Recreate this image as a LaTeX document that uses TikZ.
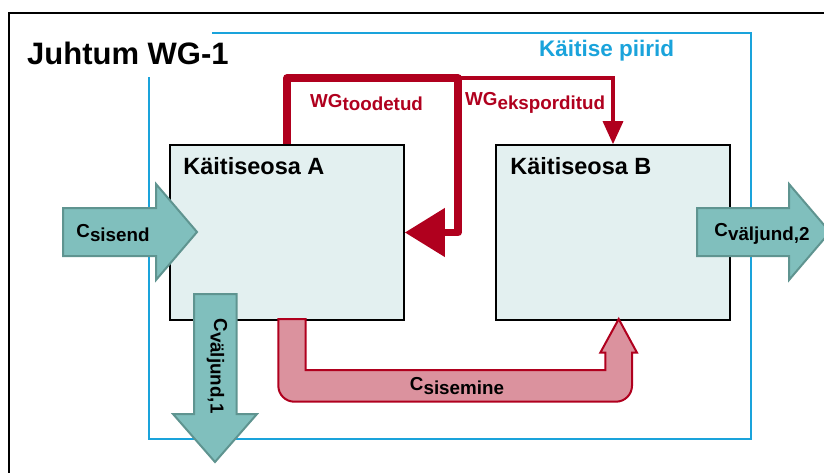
\documentclass[tikz,border=0pt]{standalone}
\usepackage{fontspec}
\setmainfont{Liberation Sans}
\usetikzlibrary{arrows.meta,positioning,calc}
\definecolor{wgred}{HTML}{B0001E}
\definecolor{pinkfill}{HTML}{DB929E}
\definecolor{tealfill}{HTML}{80BFBD}
\definecolor{tealedge}{HTML}{5F9490}
\definecolor{unitfill}{HTML}{E3F0F0}
\definecolor{limitblue}{HTML}{1AA3DB}
\newcommand{\lo}[1]{\raisebox{-3.5pt}{#1}}
\tikzset{
  unitbox/.style={rectangle, draw=black, fill=unitfill, line width=1.6pt,
    minimum width=234pt, minimum height=175pt, inner sep=0pt},
  unitlabel/.style={anchor=base west, inner sep=0pt,
    font=\fontsize{23.5}{28}\selectfont\bfseries},
  flowlabel/.style={inner sep=0pt, font=\fontsize{18.8}{22}\selectfont\bfseries},
  wglabel/.style={flowlabel, anchor=base west, text=wgred},
  cflow/.style={draw=tealedge, fill=tealfill, line width=2pt},
  wgmain/.style={draw=wgred, line width=7.5pt, line join=round,
    -{Triangle[length=40pt,width=47pt]}},
  wgexport/.style={draw=wgred, line width=3.3pt,
    -{Triangle[length=23pt,width=20pt]}},
  internal/.style={draw=wgred, fill=pinkfill, line width=2pt},
}

\begin{document}
\begin{tikzpicture}[x=1pt, y=-1pt]
  \clip (0,0) rectangle (824,473);
  % frame and plant boundary
  \draw[line width=2.5pt] (9,473) |- (824,13);
  \draw[limitblue, line width=1.8pt] (212,33) -| (751,439) -| (149,77);
  \node[anchor=base west, inner sep=0pt, font=\fontsize{31}{36}\selectfont\bfseries] (title) at (27,65) {Juhtum WG-1};
  \node[anchor=base west, inner sep=0pt, text=limitblue, font=\fontsize{22.5}{27}\selectfont\bfseries] (limit) at (539,57) {Käitise piirid};

  \node[unitbox] (unitA) at (287,232.5) {};
  \node[unitbox] (unitB) at (613,232.5) {};
  \node[unitlabel] (nameA) at ([xshift=14pt,yshift=-30pt]unitA.north west) {Käitiseosa A};
  \node[unitlabel] (nameB) at ([xshift=15pt,yshift=-30pt]unitB.north west) {Käitiseosa B};

  % WG loop
  \coordinate (split) at (458,78);
  \draw[wgexport] (split) -| (unitB.north);
  \draw[wgmain] (unitA.north) |- (split) |- (unitA.east);
  \node[wglabel] (wgmade) at (310,107.5) {WG\lo{toodetud}};
  \node[wglabel] (wgout) at (465,106) {WG\lo{eksporditud}};

  % material flows
  \draw[cflow] (63,208) -- (156,208) -- (156,184) -- (197,232) -- (156,280)
    -- (156,256) -- (63,256) -- cycle;
  \node[flowlabel] (cin) at (113,233) {C\lo{sisend}};

  \draw[cflow] (697,208) -- (789,208) -- (789,184) -- (830,232) -- (789,280)
    -- (789,256) -- (697,256) -- cycle;
  \node[flowlabel] (cout2) at (762,234) {C\lo{väljund,2}};

  \draw[cflow] (194,294) -- (236.5,294) -- (236.5,414) -- (257,414) -- (215,462)
    -- (173,414) -- (194,414) -- cycle;
  \node[flowlabel, rotate=-90] (cout1) at (217,366) {C\lo{väljund,1}};

  \draw[internal] (305.7,319) -- (305.7,370) -- (605.3,370) -- (605.3,352.7)
    -- (600.3,352.7) -- (618.7,319) -- (637,352.7) -- (632,352.7)
    -- (632,385.7) arc[start angle=0, end angle=90, radius=16]
    -- (294.3,401.7) arc[start angle=90, end angle=180, radius=16]
    -- (278.3,319) -- cycle;
  \node[flowlabel] (cint) at (457,386) {C\lo{sisemine}};
\end{tikzpicture}
\end{document}
